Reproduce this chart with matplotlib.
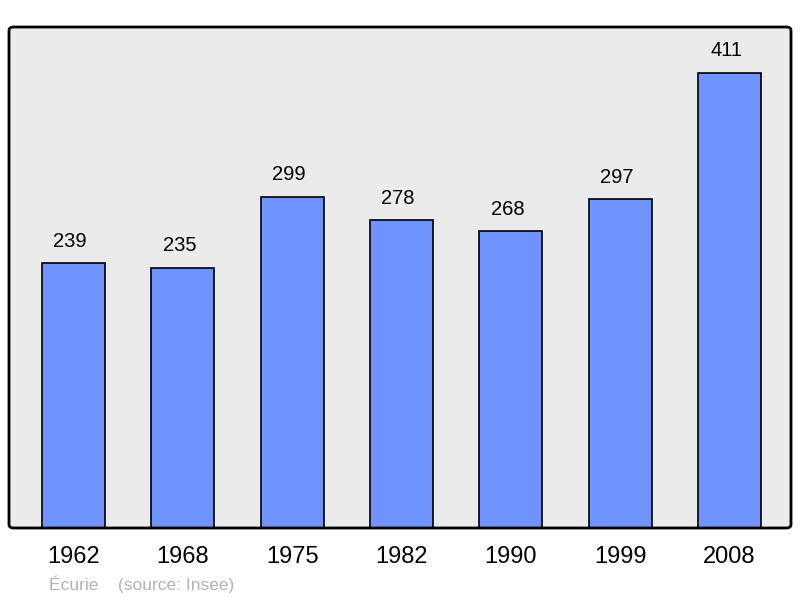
import matplotlib.pyplot as plt
from matplotlib.patches import FancyBboxPatch

years = ['1962', '1968', '1975', '1982', '1990', '1999', '2008']
population = [239, 235, 299, 278, 268, 297, 411]

plt.rcParams['font.family'] = ['Liberation Sans', 'DejaVu Sans']

fig = plt.figure(figsize=(8, 5.98), dpi=100)
W, H = 800, 598
ax = fig.add_axes([9 / W, 1 - 528 / H, (791 - 9) / W, (528 - 27) / H])
ax.set_facecolor('#ebebeb')

x = range(len(years))
ax.bar(x, population, width=0.576, color='#7094ff', edgecolor='black',
       linewidth=1.2, zorder=2)
for xi, v in zip(x, population):
    ax.text(xi - 0.03, v + 20, str(v), ha='center', va='center', fontsize=14.5)

ax.set_xlim(-0.59, 6.564)
ax.set_ylim(0, 452.6)
ax.set_xticks(list(x))
ax.set_xticklabels(years, fontsize=17)
ax.tick_params(axis='x', length=0, pad=13)
ax.set_yticks([])
for s in ax.spines.values():
    s.set_visible(False)

# rounded frame around the plot area
frame = FancyBboxPatch((9 / W, 1 - 528 / H), (791 - 9) / W, (528 - 27) / H,
                       boxstyle='round,pad=0,rounding_size=0.006',
                       transform=fig.transFigure, fill=False,
                       edgecolor='black', linewidth=2, zorder=5)
fig.patches.append(frame)

fig.text(49 / W, 1 - 584 / H, 'Écurie    (source: Insee)', fontsize=12.5,
         color='#b3b3b3', va='center', ha='left')

fig.savefig('out.png', dpi=100)
